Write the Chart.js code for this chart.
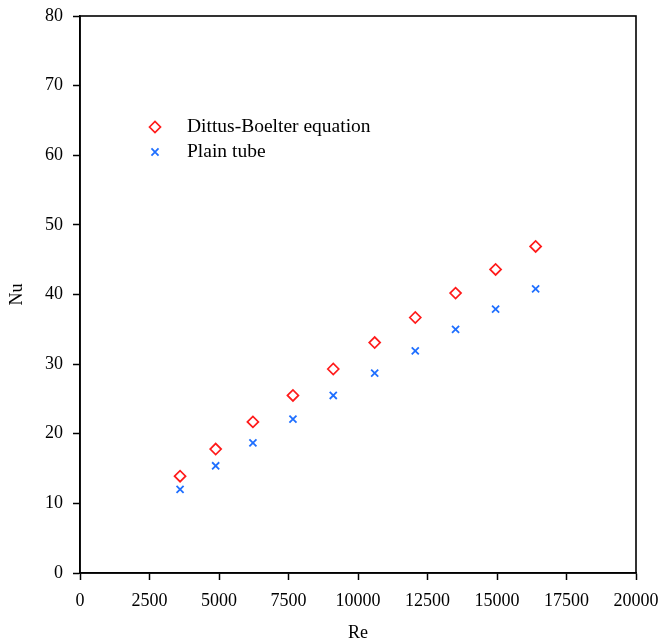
<!DOCTYPE html>
<html>
<head>
<meta charset="utf-8">
<script src="https://cdn.jsdelivr.net/npm/chart.js@4/dist/chart.umd.min.js"></script>
<style>
  html, body { margin: 0; padding: 0; background: #fff; }
  #wrap { width: 662px; height: 642px; }
</style>
</head>
<body>
<div id="wrap"><canvas id="c" width="662" height="642"></canvas></div>
<script>
// Reynolds numbers of the test runs
const reynolds = [3600, 4880, 6220, 7660, 9110, 10600, 12060, 13510, 14950, 16390];
// Nusselt number from the Dittus-Boelter correlation
const nuDittusBoelter = [13.9, 17.8, 21.7, 25.5, 29.3, 33.1, 36.7, 40.2, 43.6, 46.9];
// Measured Nusselt number, plain tube
const nuPlainTube = [12.0, 15.4, 18.7, 22.1, 25.5, 28.7, 31.9, 35.0, 37.9, 40.8];

const xTicks = [0, 2500, 5000, 7500, 10000, 12500, 15000, 17500, 20000];
const yTicks = [0, 10, 20, 30, 40, 50, 60, 70, 80];

const seriesNames = ['Dittus-Boelter equation', 'Plain tube'];

const FONT = 'Liberation Serif, "Times New Roman", serif';

const toPoints = (ys) => reynolds.map((x, i) => ({ x, y: ys[i] }));

// Frame around the plot area (top and right sides included)
const framePlugin = {
  id: 'frame',
  afterDatasetsDraw(chart) {
    const { ctx, chartArea: a } = chart;
    ctx.save();
    ctx.strokeStyle = '#000';
    ctx.lineWidth = 1.6;
    ctx.strokeRect(a.left, a.top, a.right - a.left, a.bottom - a.top);
    ctx.restore();
  }
};

// Legend drawn inside the plot, using each dataset's own point style
const insideLegend = {
  id: 'insideLegend',
  afterDraw(chart) {
    const { ctx, chartArea: a } = chart;
    const x0 = a.left + 75;
    const y0 = a.top + 111;
    const gap = 25;
    ctx.save();
    chart.data.datasets.forEach((ds, i) => {
      const y = y0 + i * gap;
      ctx.strokeStyle = ds.borderColor;
      ctx.fillStyle = 'rgba(0,0,0,0)';
      ctx.lineWidth = ds.borderWidth;
      Chart.helpers.drawPoint(ctx, {
        pointStyle: ds.pointStyle,
        radius: ds.pointRadius,
        rotation: 0,
        borderWidth: ds.borderWidth
      }, x0, y);
      ctx.fillStyle = '#000';
      ctx.font = '19.5px ' + FONT;
      ctx.textBaseline = 'middle';
      ctx.textAlign = 'left';
      ctx.fillText(ds.label, x0 + 32, y);
    });
    ctx.restore();
  }
};

new Chart(document.getElementById('c'), {
  type: 'scatter',
  data: {
    datasets: [
      {
        label: seriesNames[0],
        data: toPoints(nuDittusBoelter),
        pointStyle: 'rectRot',
        pointRadius: 5.5,
        pointHoverRadius: 5.5,
        borderColor: '#ff1a1a',
        backgroundColor: 'rgba(0,0,0,0)',
        borderWidth: 1.7
      },
      {
        label: seriesNames[1],
        data: toPoints(nuPlainTube),
        pointStyle: 'crossRot',
        pointRadius: 5,
        pointHoverRadius: 5,
        borderColor: '#1f6fff',
        backgroundColor: '#1f6fff',
        borderWidth: 1.8
      }
    ]
  },
  options: {
    responsive: false,
    animation: false,
    devicePixelRatio: 1,
    layout: { padding: { left: 0, top: 16, right: 26, bottom: 0 } },
    plugins: {
      legend: { display: false },
      tooltip: { enabled: false }
    },
    scales: {
      x: {
        type: 'linear',
        min: 0,
        max: 20000,
        afterBuildTicks(scale) { scale.ticks = xTicks.map(v => ({ value: v })); },
        afterFit(scale) {
          scale.height = 69;
          scale.paddingLeft = 0;
          scale.paddingRight = 0;
        },
        ticks: {
          color: '#000',
          font: { family: FONT, size: 18 },
          padding: 10.5,
          maxRotation: 0,
          autoSkip: false,
          callback: (v) => String(v)
        },
        grid: {
          drawOnChartArea: false,
          drawTicks: true,
          tickLength: 7,
          tickWidth: 1.5,
          tickColor: '#000'
        },
        border: { display: true, color: '#000', width: 1.6 },
        title: {
          display: true,
          text: 'Re',
          color: '#000',
          font: { family: FONT, size: 18 },
          padding: { top: 0, bottom: -2 }
        }
      },
      y: {
        type: 'linear',
        min: 0,
        max: 80,
        afterBuildTicks(scale) { scale.ticks = yTicks.map(v => ({ value: v })); },
        afterFit(scale) {
          scale.width = 80;
          scale.paddingTop = 0;
          scale.paddingBottom = 0;
        },
        ticks: {
          color: '#000',
          font: { family: FONT, size: 18 },
          padding: 10,
          autoSkip: false,
          callback: (v) => String(v)
        },
        grid: {
          drawOnChartArea: false,
          drawTicks: true,
          tickLength: 7,
          tickWidth: 1.5,
          tickColor: '#000'
        },
        border: { display: true, color: '#000', width: 1.6 },
        title: {
          display: true,
          text: 'Nu',
          color: '#000',
          font: { family: FONT, size: 18 },
          padding: { top: 6, bottom: 0 }
        }
      }
    }
  },
  plugins: [framePlugin, insideLegend]
});
</script>
</body>
</html>
